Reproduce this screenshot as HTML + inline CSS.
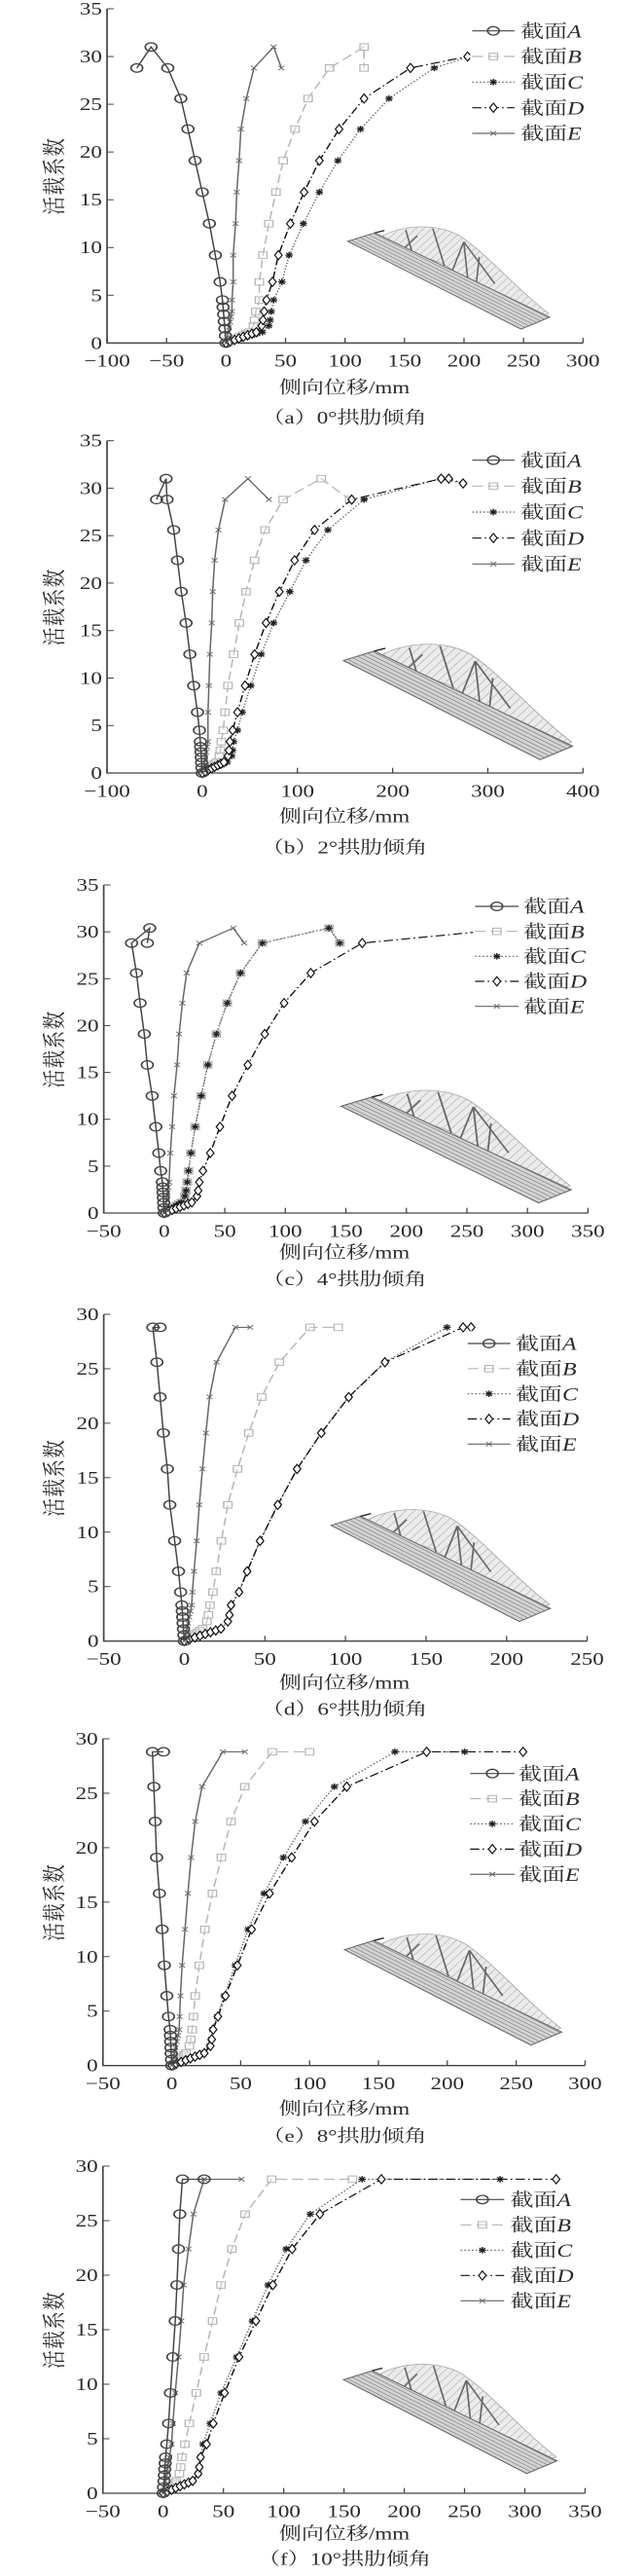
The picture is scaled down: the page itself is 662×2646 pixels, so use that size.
<!DOCTYPE html>
<html><head><meta charset="utf-8"><style>
html,body{margin:0;padding:0;background:#fff;}
svg{display:block;}
text{font-family:"Liberation Serif","Noto Serif CJK SC","Noto Sans CJK SC",serif;fill:#2a2a2a;}
</style></head><body>
<svg id="s" xmlns="http://www.w3.org/2000/svg" width="662" height="2646" viewBox="0 0 1552 7938" preserveAspectRatio="none">
<defs>
<pattern id="hatch" patternUnits="userSpaceOnUse" width="10" height="10" patternTransform="rotate(33)">
<rect width="10" height="10" fill="#d4d4d4"/><line x1="0" y1="0" x2="10" y2="0" stroke="#6a6a6a" stroke-width="3"/></pattern>
<pattern id="hatch2" patternUnits="userSpaceOnUse" width="16" height="16" patternTransform="rotate(-50)">
<rect width="16" height="16" fill="#eaeaea"/><line x1="0" y1="0" x2="16" y2="0" stroke="#a5a5a5" stroke-width="3"/></pattern>
</defs>
</svg>
<script>
var S=document.getElementById('s'),out='';
function el(s){out+=s;}
var panels=[
{off:0,x0:258,x1:1405,xmin:-100,xmax:300,xs:50,ytop:27,ybot:1057,ymax:35,xl:1212,cap:1305,capT:'（a）0°拱肋倾角',leg:[1138,1240,1255,95],legd:79,br:[838,690,1360,1040],
A:[[-3,4.5],[-5,6.4],[-9,9.2],[-14,12.5],[-20,15.8],[-26,19.1],[-32,22.4],[-38,25.6],[-49,28.8],[-63,31],[-75,28.8]],
B:[[25,3.3],[28,4.5],[28,6.4],[31,9.2],[36,12.5],[42,15.8],[48,19.1],[58,22.4],[69,25.6],[87,28.8],[116,31],[116,28.8]],
C:[[38,3.3],[40,4.5],[47,6.4],[53,9.2],[65,12.5],[78.5,15.8],[94,19.1],[113,22.4],[137,25.6],[175,28.8],[205,30]],
D:[[32,3.3],[34,4.5],[39,6.4],[44,9.2],[54,12.5],[65.6,15.8],[78.5,19.1],[95,22.4],[116,25.6],[155,28.8],[203,30]],
E:[[5,3.3],[5,4.5],[6,6.4],[6,9.2],[8,12.5],[9,15.8],[11,19.1],[12.5,22.4],[17,25.6],[23.5,28.8],[40,31],[46.5,28.8]]},
{off:1290,x0:258,x1:1405,xmin:-100,xmax:400,xs:100,ytop:1358,ybot:2382,ymax:35,xl:2533,cap:2630,capT:'（b）2°拱肋倾角',leg:[1138,1240,1255,1418],legd:80,br:[828,1975,1420,2370],
A:[[-2,3.3],[-3,4.5],[-5,6.4],[-9,9.2],[-13,12.5],[-17,15.8],[-22,19.1],[-26,22.4],[-30,25.6],[-37,28.8],[-38,31],[-48,28.8]],
B:[[20,3.3],[22,4.5],[24,6.4],[27,9.2],[33,12.5],[39,15.8],[46,19.1],[55,22.4],[66,25.6],[85,28.8],[125,31],[155,28.8]],
C:[[33,3.3],[37,4.5],[42,6.4],[51,9.2],[62,12.5],[75,15.8],[92,19.1],[109,22.4],[132,25.6],[170,28.8],[251,31],[274,30.5]],
D:[[29,3.3],[32,4.5],[37,6.4],[45,9.2],[55,12.5],[67,15.8],[81,19.1],[97,22.4],[118,25.6],[157,28.8],[251,31],[259,31],[274,30.5]],
E:[[6,3.3],[6,6.4],[7,9.2],[8,12.5],[10,15.8],[11,19.1],[13,22.4],[17,25.6],[24,28.8],[48,31],[70,28.8]]},
{off:2610,x0:250,x1:1417,xmin:-50,xmax:350,xs:50,ytop:2727,ybot:3738,ymax:35,xl:3878,cap:3960,capT:'（c）4°拱肋倾角',leg:[1145,1250,1262,2793],legd:77,br:[822,3350,1417,3735],
A:[[-1.5,3.3],[-3,4.5],[-4.5,6.4],[-7,9.2],[-10,12.5],[-14,15.8],[-16.5,19.1],[-20,22.4],[-23,25.6],[-27,28.8],[-12,30.4],[-14,28.8]],
B:[[19,3.3],[20,4.5],[22,6.4],[25.5,9.2],[30.5,12.5],[36,15.8],[43,19.1],[52,22.4],[63,25.6],[81,28.8],[136,30.4],[145,28.8]],
C:[[19,3.3],[20,4.5],[22,6.4],[25.5,9.2],[30.5,12.5],[36,15.8],[43,19.1],[52,22.4],[63,25.6],[81,28.8],[136,30.4],[145,28.8]],
D:[[29,3.3],[32,4.5],[38,6.4],[46,9.2],[56,12.5],[69,15.8],[83,19.1],[99,22.4],[121,25.6],[163.5,28.8],[260,30]],
E:[[4,3.3],[5,6.4],[6.5,9.2],[8,12.5],[10.6,15.8],[12.3,19.1],[15,22.4],[18.5,25.6],[29,28.8],[57,30.4],[66,28.8]]},
{off:3930,x0:250,x1:1415,xmin:-50,xmax:250,xs:50,ytop:4050,ybot:5057,ymax:30,xl:5203,cap:5285,capT:'（d）6°拱肋倾角',leg:[1127,1230,1243,4140],legd:77.5,br:[798,4642,1365,5025],
A:[[-1.5,3.3],[-2.3,4.5],[-3.6,6.4],[-6,9.2],[-9,12.5],[-10.5,15.8],[-13,19.1],[-15,22.4],[-17,25.6],[-19.5,28.8],[-15,28.8]],
B:[[16,3.3],[17.8,4.5],[19.8,6.4],[23,9.2],[27,12.5],[33,15.8],[40,19.1],[48,22.4],[59,25.6],[78,28.8],[95.5,28.8]],
C:[[29,3.3],[34,4.5],[39,6.4],[47,9.2],[58,12.5],[70,15.8],[85,19.1],[102,22.4],[124.5,25.6],[163,28.8]],
D:[[29,3.3],[34,4.5],[39,6.4],[47,9.2],[58,12.5],[70,15.8],[85,19.1],[102,22.4],[124.5,25.6],[173,28.8],[178,28.8]],
E:[[4.6,3.3],[5,4.5],[6,6.4],[7.7,9.2],[9.3,12.5],[11.3,15.8],[13.4,19.1],[15.7,22.4],[20,25.6],[31.7,28.8],[41,28.8]]},
{off:5250,x0:248,x1:1410,xmin:-50,xmax:300,xs:50,ytop:5358,ybot:6365,ymax:30,xl:6516,cap:6600,capT:'（e）8°拱肋倾角',leg:[1133,1240,1250,5465],legd:77.7,br:[830,5950,1392,6330],
A:[[-1.2,3.3],[-2.4,4.5],[-3.6,6.4],[-5.4,9.2],[-7,12.5],[-9,15.8],[-11,19.1],[-12,22.4],[-13,25.6],[-14,28.8],[-6,28.8]],
B:[[14.8,3.3],[15.7,4.5],[17,6.4],[20,9.2],[24,12.5],[29.5,15.8],[36,19.1],[43,22.4],[53,25.6],[73,28.8],[100,28.8]],
C:[[29.5,3.3],[33,4.5],[38,6.4],[46,9.2],[55.4,12.5],[67,15.8],[81,19.1],[97,22.4],[118,25.6],[162,28.8],[212.6,28.8]],
D:[[30,3.3],[33.5,4.5],[39,6.4],[47.6,9.2],[58,12.5],[71,15.8],[87,19.1],[103.6,22.4],[127,25.6],[185,28.8],[255,28.8]],
E:[[5.4,3.3],[5.7,4.5],[6.3,6.4],[7.5,9.2],[9.6,12.5],[11.7,15.8],[14,19.1],[17,22.4],[22,25.6],[37,28.8],[53,28.8]]},
{off:6588,x0:248,x1:1410,xmin:-50,xmax:350,xs:50,ytop:6675,ybot:7683,ymax:30,xl:7826,cap:7903,capT:'（f）10°拱肋倾角',leg:[1110,1215,1230,6778],legd:78,br:[828,7276,1380,7650],
A:[[2,3.3],[3,4.5],[4.5,6.4],[6,9.2],[8,12.5],[10,15.8],[11.4,19.1],[12.7,22.4],[13.8,25.6],[16,28.8],[34,28.8]],
B:[[15.5,3.3],[18,4.5],[21.7,6.4],[27.5,9.2],[34,12.5],[41,15.8],[48,19.1],[57,22.4],[68,25.6],[90,28.8],[157,28.8]],
C:[[31,3.3],[33,4.5],[39,6.4],[48,9.2],[61,12.5],[74,15.8],[87,19.1],[102,22.4],[122,25.6],[165,28.8],[279.5,28.8]],
D:[[31,3.3],[36,4.5],[41.6,6.4],[51,9.2],[63,12.5],[77,15.8],[91,19.1],[107,22.4],[130,25.6],[181,28.8],[326,28.8]],
E:[[5,3.3],[7,4.5],[8,6.4],[10,9.2],[12.7,12.5],[15,15.8],[17,19.1],[21,22.4],[25,25.6],[34,28.8],[65,28.8]]}
];
var sty={A:{c:'#444',d:'',m:'o'},B:{c:'#b5b5b5',d:'26 12',m:'s'},C:{c:'#666',d:'4 5',m:'*'},D:{c:'#111',d:'22 8 4 8',m:'d'},E:{c:'#666',d:'',m:'x'}};
function mk(t,x,y,c){
 if(t=='o')return '<ellipse cx="'+x+'" cy="'+y+'" rx="14" ry="13" fill="none" stroke="'+c+'" stroke-width="4"/>';
 if(t=='s')return '<rect x="'+(x-10)+'" y="'+(y-10)+'" width="20" height="20" fill="#fff" fill-opacity="0.3" stroke="'+c+'" stroke-width="3"/>';
 if(t=='d')return '<path d="M'+x+','+(y-14)+'L'+(x+9)+','+y+'L'+x+','+(y+14)+'L'+(x-9)+','+y+'Z" fill="#fff" stroke="'+c+'" stroke-width="3"/>';
 if(t=='*')return '<path d="M'+(x-9)+','+y+'H'+(x+9)+'M'+x+','+(y-10)+'V'+(y+10)+'M'+(x-7)+','+(y-7)+'L'+(x+7)+','+(y+7)+'M'+(x+7)+','+(y-7)+'L'+(x-7)+','+(y+7)+'" stroke="#222" stroke-width="3.5"/>';
 if(t=='x')return '<path d="M'+(x-7)+','+(y-7)+'L'+(x+7)+','+(y+7)+'M'+(x+7)+','+(y-7)+'L'+(x-7)+','+(y+7)+'" stroke="'+c+'" stroke-width="2.5"/>';
}
panels.forEach(function(p){
 var X=function(v){return p.x0+(v-p.xmin)*(p.x1-p.x0)/(p.xmax-p.xmin);};
 var Y=function(v){return p.ybot-v*(p.ybot-p.ytop)/p.ymax;};
 var b=p.br,w=b[2]-b[0],h=b[3]-b[1];
 el('<g transform="translate('+b[0]+','+b[1]+') scale('+(w/560)+','+(h/380)+')">');
 el('<path d="M70,55 C130,0 230,-5 290,40 C360,100 430,210 520,300 L440,330 C360,250 300,170 240,130 Z" fill="url(#hatch2)" stroke="#999" stroke-width="2" opacity="0.95"/>');
 el('<path d="M150,20 L170,110 M220,15 L250,140 M300,60 L310,180 M300,60 L380,200 M300,60 L260,190 M180,40 L140,90 M340,110 L330,230" stroke="#666" stroke-width="4" fill="none"/>');
 el('<path d="M0,58 L70,30 L522,312 L448,352 Z" fill="url(#hatch)" stroke="#666" stroke-width="3"/>');
 el('<path d="M70,30 L95,22" stroke="#222" stroke-width="4"/></g>');
 el('<path d="M'+p.x0+','+p.ytop+'V'+p.ybot+'H'+p.x1+'" fill="none" stroke="#444" stroke-width="4"/>');
 for(var v=0;v<=p.ymax;v+=5){var y=Y(v);el('<line x1="'+p.x0+'" y1="'+y+'" x2="'+(p.x0+16)+'" y2="'+y+'" stroke="#444" stroke-width="3"/>');
  el('<text x="'+(p.x0-12)+'" y="'+(y+18)+'" font-size="54" text-anchor="end">'+v+'</text>');}
 for(var v=p.xmin;v<=p.xmax;v+=p.xs){var x=X(v);el('<line x1="'+x+'" y1="'+p.ybot+'" x2="'+x+'" y2="'+(p.ybot-16)+'" stroke="#444" stroke-width="3"/>');
  el('<text x="'+x+'" y="'+(p.ybot+73)+'" font-size="54" text-anchor="middle">'+(v<0?'\u2212'+(-v):v)+'</text>');}
 var cy=(p.ytop+p.ybot)/2;
 el('<text transform="translate(150,'+cy+') rotate(-90)" font-size="56" text-anchor="middle" letter-spacing="4">活载系数</text>');
 el('<text x="830" y="'+p.xl+'" font-size="54" text-anchor="middle">侧向位移/mm</text>');
 el('<text x="830" y="'+p.cap+'" font-size="54" text-anchor="middle">'+p.capT+'</text>');
 ['B','C','D','E','A'].forEach(function(k){
  var s=sty[k],pts=p[k].slice(),f=pts[0];
  var pre=[];
  if(k=='A'||k=='E'){for(var i=0;i<6;i++)pre.push([f[0]*i/6,f[1]*i/6]);}
  else{for(var i=0;i<8;i++)pre.push([(f[0]-3)*i/8,1.3*i/8]);pre.push([f[0]-2,1.8]);pre.push([f[0]-1,2.4]);}
  pts=pre.concat(pts);
  var d=pts.map(function(q,i){return (i?'L':'M')+X(q[0]).toFixed(1)+','+Y(q[1]).toFixed(1);}).join('');
  el('<path d="'+d+'" fill="none" stroke="'+s.c+'" stroke-width="3.5" '+(s.d?'stroke-dasharray="'+s.d+'"':'')+'/>');
  pts.forEach(function(q){el(mk(s.m,X(q[0]),Y(q[1]),s.c));});
 });
 ['A','B','C','D','E'].forEach(function(k,i){
  var L=p.leg,y=L[3]+i*p.legd;
  el('<rect x="'+(L[0]-5)+'" y="'+(y-38)+'" width="'+(1552-L[0])+'" height="'+p.legd+'" fill="#fff"/>');
 });
 ['A','B','C','D','E'].forEach(function(k,i){
  var s=sty[k],L=p.leg,y=L[3]+i*p.legd;
  el('<line x1="'+L[0]+'" y1="'+y+'" x2="'+L[1]+'" y2="'+y+'" stroke="'+s.c+'" stroke-width="3.5" '+(s.d?'stroke-dasharray="'+s.d+'"':'')+'/>');
  el(mk(s.m,(L[0]+L[1])/2,y,s.c));
  el('<text x="'+L[2]+'" y="'+(y+20)+'" font-size="56">截面<tspan font-style="italic">'+k+'</tspan></text>');
 });
});
S.insertAdjacentHTML('beforeend',out);
</script>
</body></html>
